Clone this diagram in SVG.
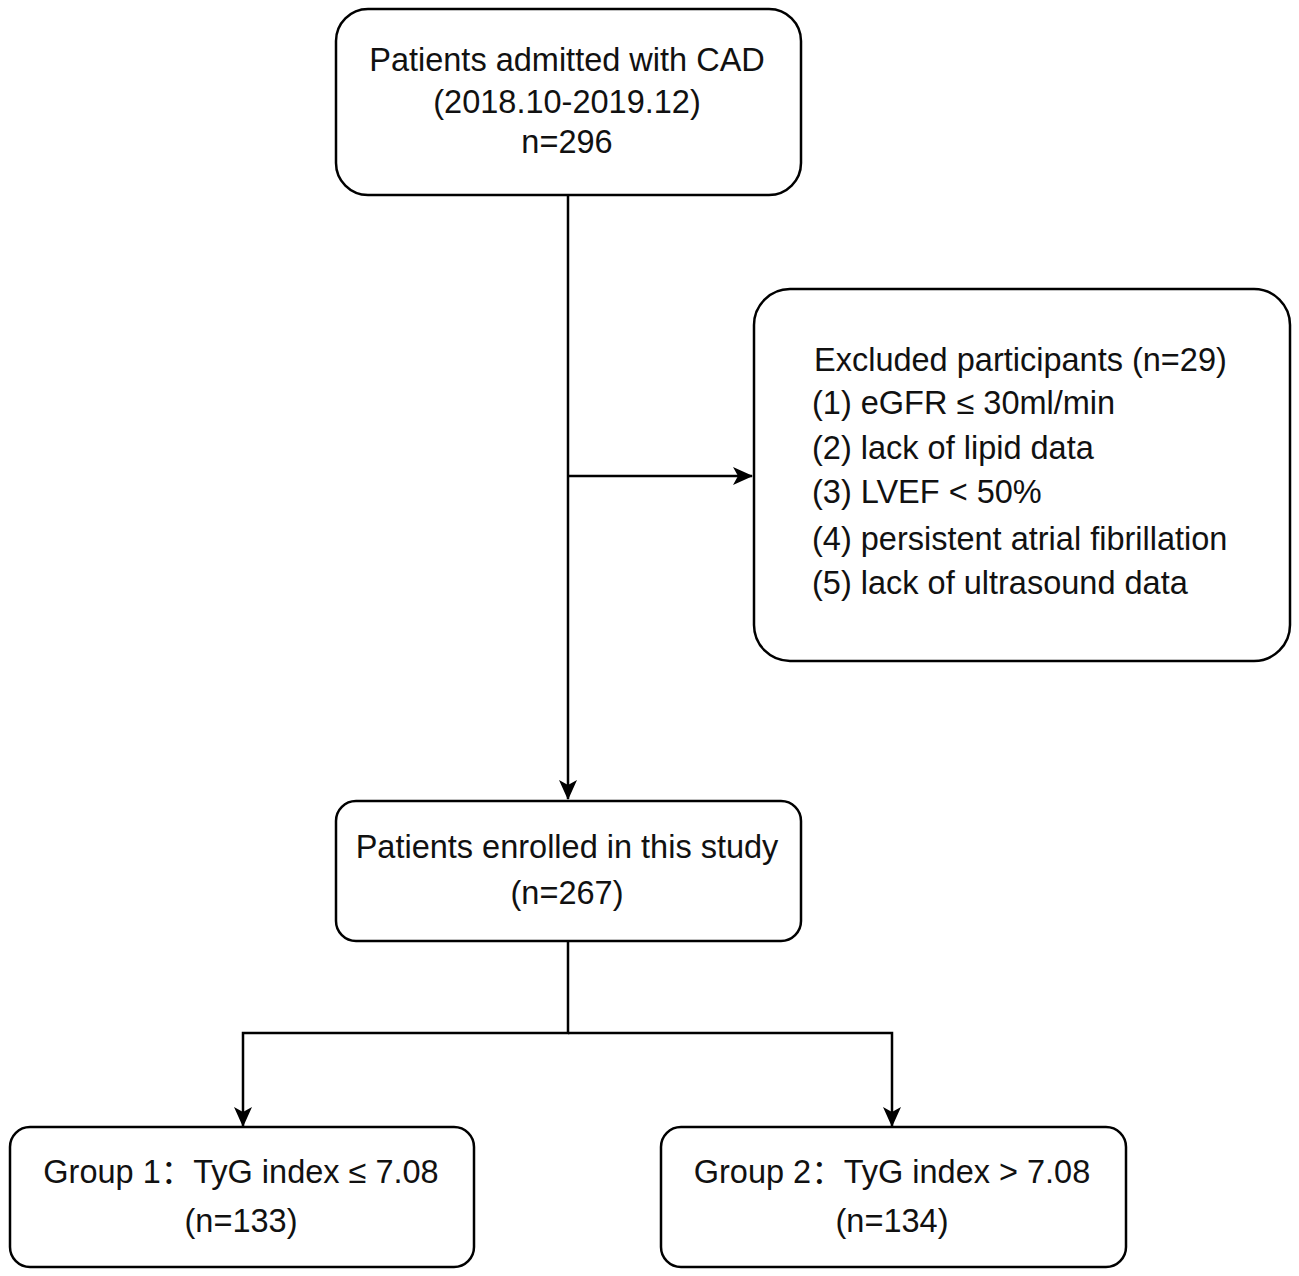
<svg xmlns="http://www.w3.org/2000/svg" width="1299" height="1276" viewBox="0 0 1299 1276">
<style>
.box{fill:#fff;stroke:#000;stroke-width:2.5}
.t{font-family:"Liberation Sans","Noto Sans CJK SC",Arial,sans-serif;font-size:32.5px;fill:#111}
.c{text-anchor:middle}
.ln{fill:none;stroke:#000;stroke-width:2.5}
</style>
<defs>
<marker id="ah" markerWidth="20" markerHeight="18" viewBox="0 0 20 18" refX="19" refY="9" orient="auto" markerUnits="userSpaceOnUse">
<path d="M0,0 L20,9 L0,18 L5,9 Z" fill="#000"/>
</marker>
</defs>
<rect width="1299" height="1276" fill="#fff"/>
<g id="connectors">
<path class="ln" d="M568,195 V799" marker-end="url(#ah)"/>
<path class="ln" d="M568,476 H752" marker-end="url(#ah)"/>
<path class="ln" d="M568,941 V1033 H243 V1126" marker-end="url(#ah)"/>
<path class="ln" d="M568,1033 H892 V1126" marker-end="url(#ah)"/>
</g>
<g id="node-admitted">
<rect class="box" x="336" y="9" width="465" height="186" rx="32"/>
<text class="t c" x="567" y="71">Patients admitted with CAD</text>
<text class="t c" x="567" y="113">(2018.10-2019.12)</text>
<text class="t c" x="567" y="153">n=296</text>
</g>
<g id="node-excluded">
<rect class="box" x="754" y="289" width="536" height="372" rx="36"/>
<text class="t" x="814" y="371">Excluded participants (n=29)</text>
<text class="t" x="812" y="414">(1) eGFR ≤ 30ml/min</text>
<text class="t" x="812" y="459">(2) lack of lipid data</text>
<text class="t" x="812" y="503">(3) LVEF &lt; 50%</text>
<text class="t" x="812" y="550">(4) persistent atrial fibrillation</text>
<text class="t" x="812" y="594">(5) lack of ultrasound data</text>
</g>
<g id="node-enrolled">
<rect class="box" x="336" y="801" width="465" height="140" rx="20"/>
<text class="t c" x="567" y="858">Patients enrolled in this study</text>
<text class="t c" x="567" y="904">(n=267)</text>
</g>
<g id="node-group1">
<rect class="box" x="10" y="1127" width="464" height="140" rx="20"/>
<text class="t c" x="241" y="1183">Group 1：TyG index ≤ 7.08</text>
<text class="t c" x="241" y="1232">(n=133)</text>
</g>
<g id="node-group2">
<rect class="box" x="661" y="1127" width="465" height="140" rx="20"/>
<text class="t c" x="892" y="1183">Group 2：TyG index &gt; 7.08</text>
<text class="t c" x="892" y="1232">(n=134)</text>
</g>
</svg>
